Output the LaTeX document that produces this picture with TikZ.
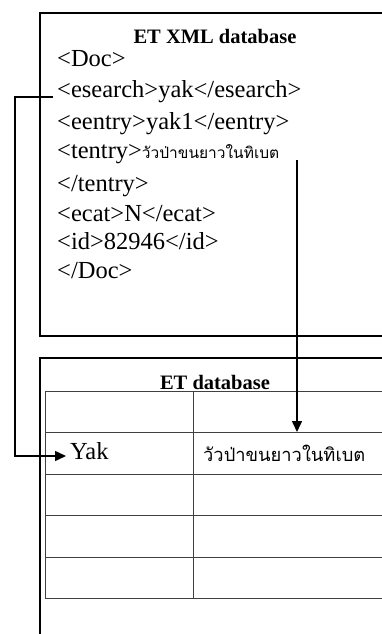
\documentclass[tikz,border=0pt]{standalone}
\usepackage{fontspec}
\setmainfont{Liberation Serif}
\newfontfamily\thaifont[Script=Thai]{Loma}
\usetikzlibrary{arrows.meta}
\tikzset{
  box/.style={draw=black, line width=2pt},
  grid/.style={draw=black!75, line width=1pt},
  xmlline/.style={anchor=west, inner sep=0pt, font=\fontsize{24.5}{26}\selectfont},
  title/.style={inner sep=0pt, font=\fontsize{20.5}{22}\selectfont\bfseries},
  conn/.style={draw=black, line width=1.5pt, -{Triangle[length=11pt,width=10pt]}}
}
\begin{document}
\begin{tikzpicture}[x=1pt,y=-1pt]
\useasboundingbox (0,0) rectangle (382,634);
\clip (0,0) rectangle (382,634);
% top box
\draw[box] (400,13) -- (40,13) -- (40,336) -- (400,336);
% bottom box
\draw[box] (400,358) -- (40,358) -- (40,640);
% table
\foreach \y in {391,432,474,515,557,598} {\draw[grid] (45,\y) -- (400,\y);}
\draw[grid] (45,391) -- (45,598);
\draw[grid] (193,391) -- (193,598);
% texts top
\node[title] (t1) at (215,36) {ET XML database};
\node[xmlline] (l1) at (57,59) {<Doc>};
\node[xmlline] (l2) at (57,92) {<esearch>yak</esearch>};
\node[xmlline] (l3) at (57,124) {<eentry>yak1</eentry>};
\node[xmlline] (l4) at (57,154) {<tentry>{\thaifont\fontsize{15.5}{17}\selectfont วัวป่าขนยาวในทิเบต}};
\node[xmlline] (l5) at (57,186) {</tentry>};
\node[xmlline] (l6) at (57,214) {<ecat>N</ecat>};
\node[xmlline] (l7) at (57,241) {<id>82946</id>};
\node[xmlline] (l8) at (57,271) {</Doc>};
% texts bottom
\node[title] (t2) at (215,382) {ET database};
\node[xmlline] (yak) at (70,451) {Yak};
\node[anchor=west, inner sep=0pt, font=\thaifont\fontsize{18.3}{20}\selectfont] (thai) at (203,453) {วัวป่าขนยาวในทิเบต};
% connectors
\coordinate (c1) at (15,97);
\coordinate (c2) at (297,160);
\coordinate (c3) at (297,432);
\coordinate (c4) at (66,456);
\draw[conn] ([xshift=-4pt]l2.west |- c1) -- (c1) |- (c4);
\draw[conn] (c2) -- (c3);
\end{tikzpicture}
\end{document}
